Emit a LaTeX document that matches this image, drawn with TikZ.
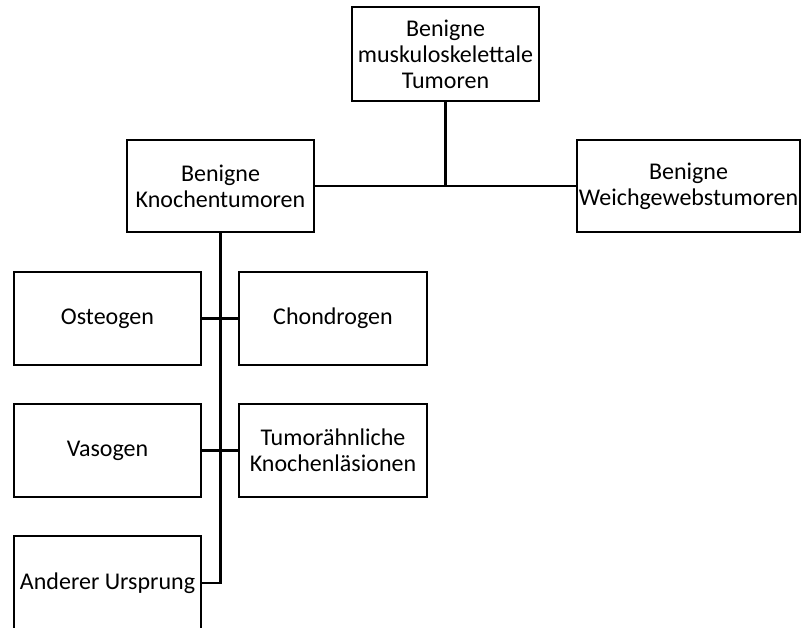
\documentclass[tikz,border=0pt]{standalone}
\usepackage{fontspec}
\setmainfont{Carlito}
\begin{document}
\begin{tikzpicture}[x=1pt,y=-1pt,
  box/.style={draw=black,line width=2.2pt,rectangle,align=center,inner sep=0pt,
    font=\fontsize{24}{26}\selectfont,text=black},
  conn/.style={draw=black,line width=2.2pt}]
\clip (0,0) rectangle (801,627);
\useasboundingbox (0,0) rectangle (801,627);
\node[box,minimum width=187pt,minimum height=94pt] (top) at (445.5,54) {Benigne\\muskuloskelettale\\Tumoren};
\node[box,minimum width=187pt,minimum height=92pt] (knochen) at (220.5,186) {Benigne\\Knochentumoren};
\node[box,minimum width=223pt,minimum height=92pt] (weich) at (688.5,186) {Benigne\\Weichgewebstumoren};
\node[box,minimum width=187pt,minimum height=93pt] (osteo) at (107.5,318.5) {Osteogen};
\node[box,minimum width=188pt,minimum height=93pt] (chondro) at (333,318.5) {Chondrogen};
\node[box,minimum width=187pt,minimum height=93pt] (vaso) at (107.5,450.5) {Vasogen};
\node[box,minimum width=188pt,minimum height=93pt] (tumor) at (333,450.5) {Tumorähnliche\\Knochenläsionen};
\node[box,minimum width=187pt,minimum height=94pt] (anderer) at (107.5,583) {Anderer Ursprung};
\draw[conn] (knochen.east) -- (weich.west);
\draw[conn] (top.south) -- (top.south |- knochen.east);
\draw[conn] (knochen.south) -- (knochen.south |- anderer.east) -- (anderer.east);
\draw[conn] (osteo.east) -- (chondro.west);
\draw[conn] (vaso.east) -- (tumor.west);
\end{tikzpicture}
\end{document}
